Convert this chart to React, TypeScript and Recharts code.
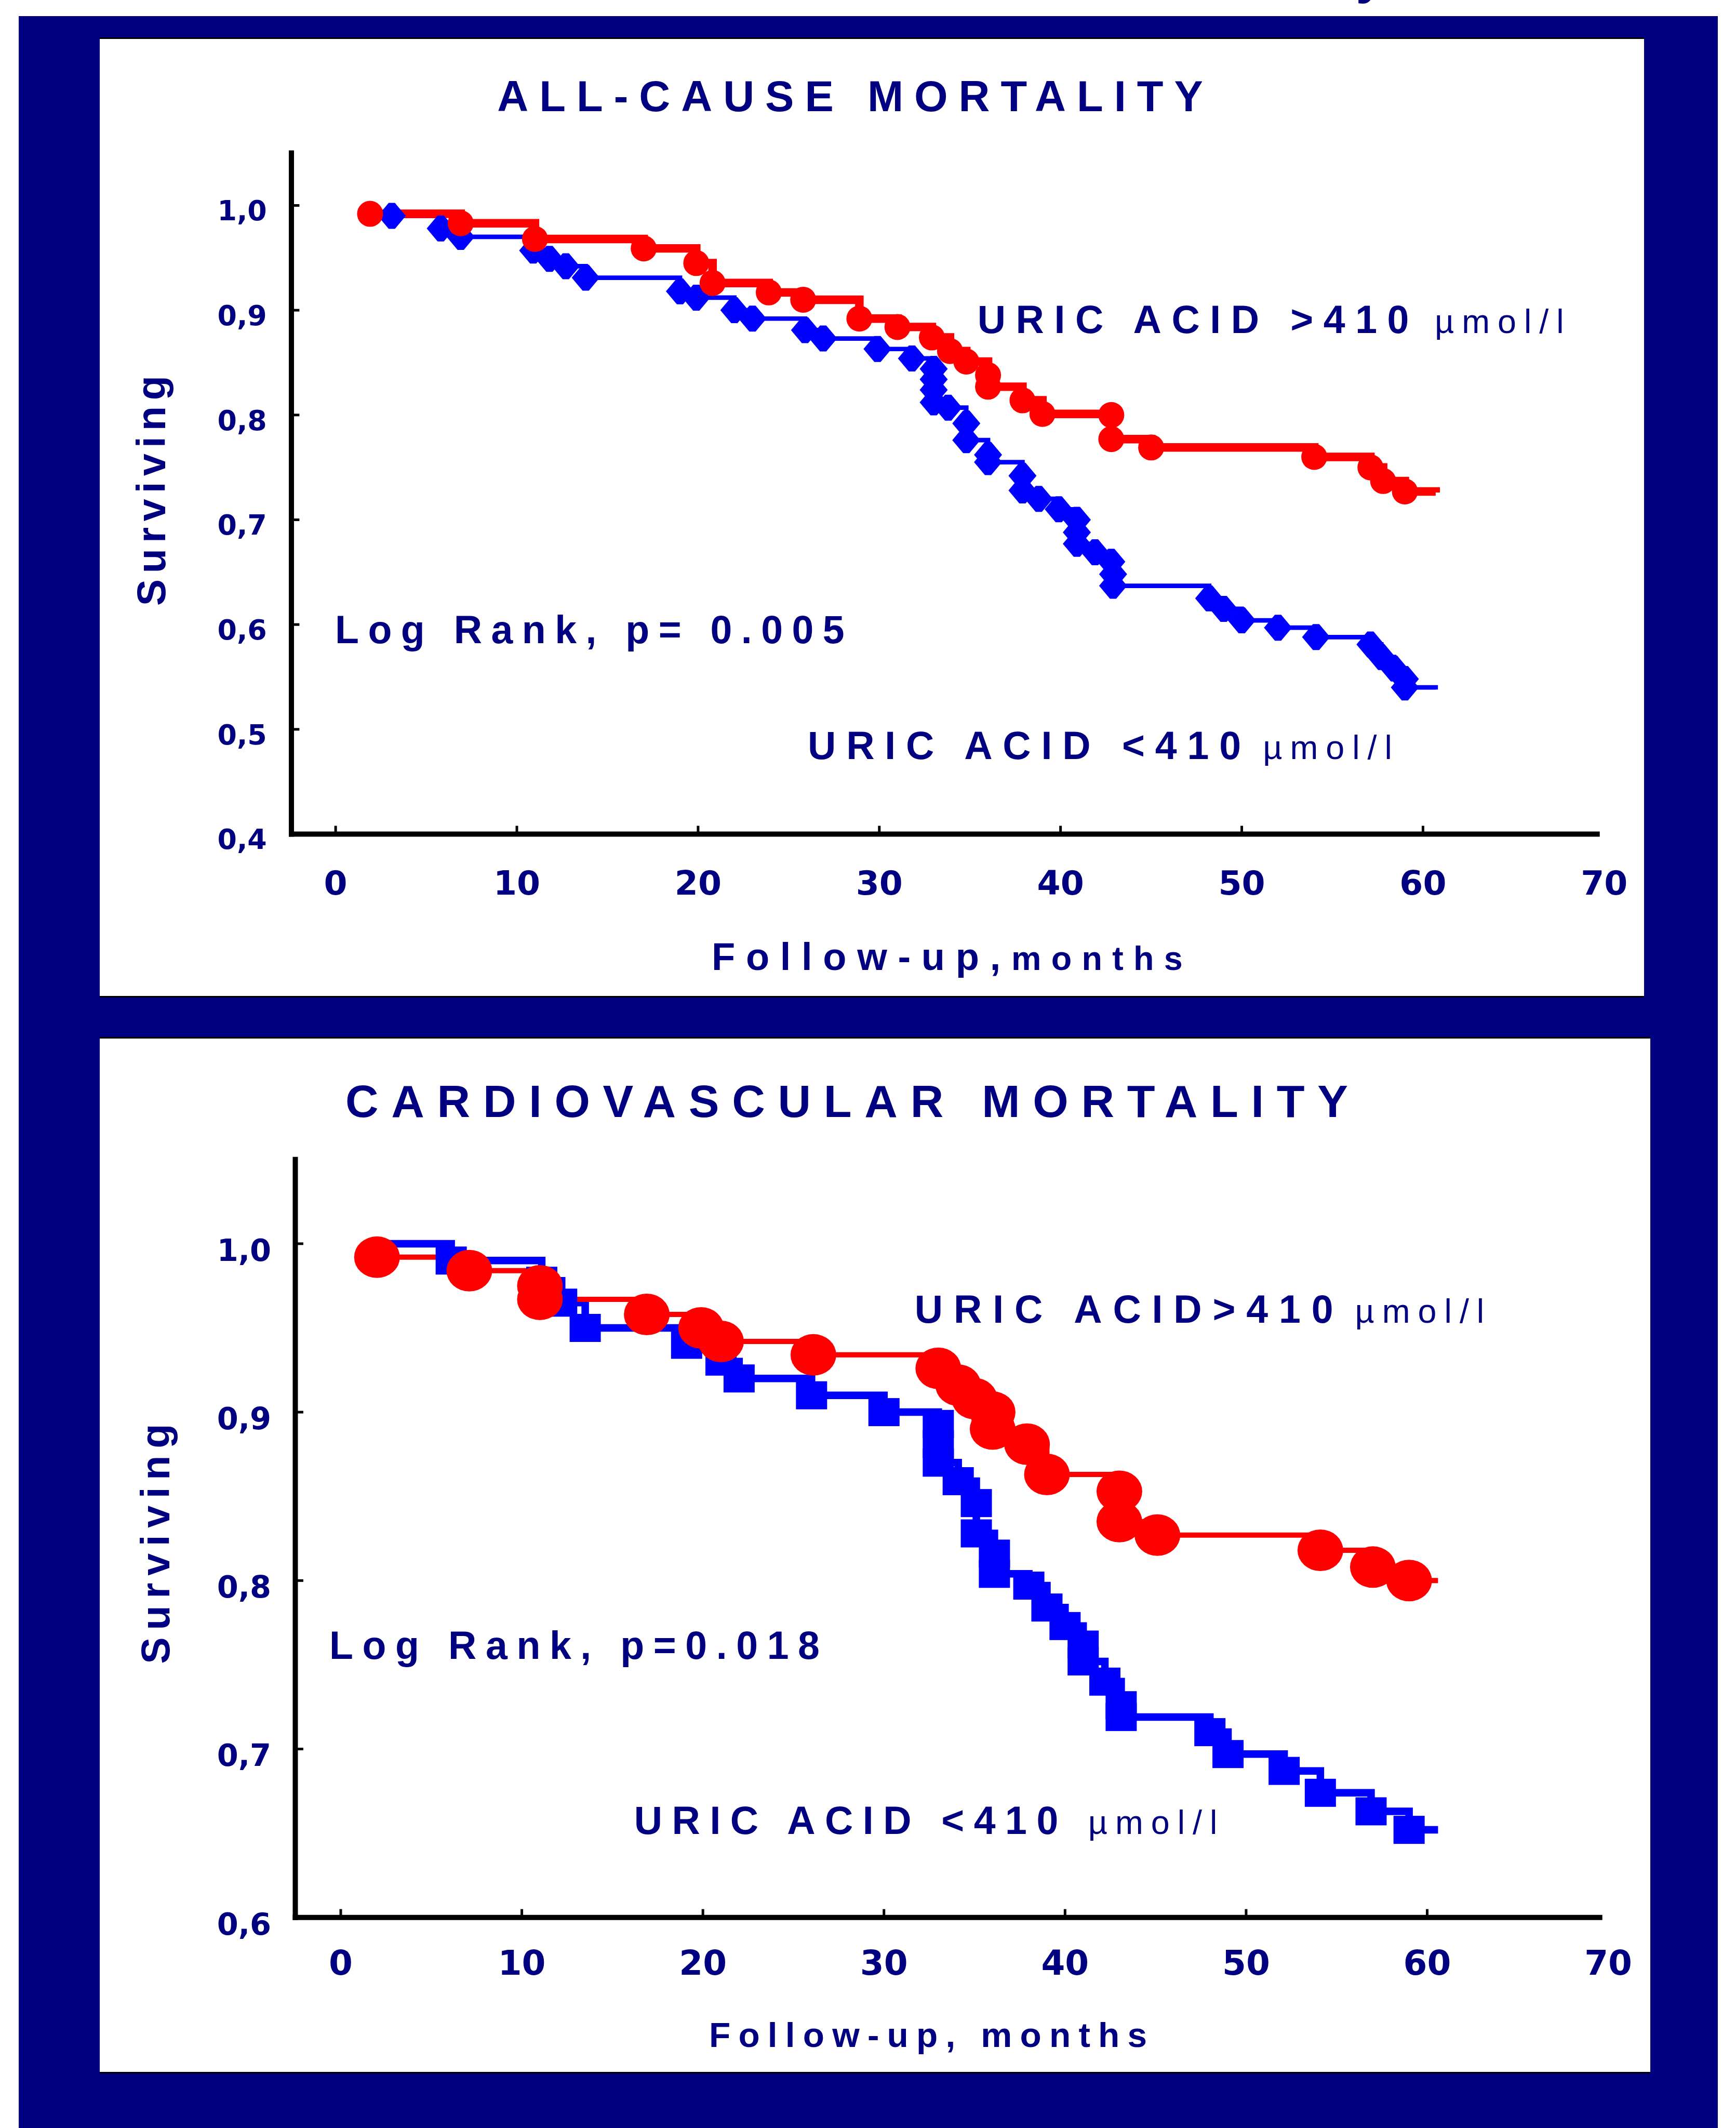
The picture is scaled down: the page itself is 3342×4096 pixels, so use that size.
import React from "react";
import { LineChart, Line, XAxis, YAxis } from "recharts";

const NAVY = "#000080";
const RED = "#ff0000";
const BLUE = "#0000ff";
const INK = "#000000";

const PAGE_W = 3342;
const PAGE_H = 4096;
const AXIS_BOX = 100;

const TICK_FONT = '"DejaVu Sans", Verdana, sans-serif';
const TEXT_FONT = '"Liberation Sans", Arial, Helvetica, sans-serif';

// tick values
const monthTicks = [0, 10, 20, 30, 40, 50, 60, 70];
const allCauseTicks = [0.4, 0.5, 0.6, 0.7, 0.8, 0.9, 1.0];
const cardioTicks = [0.6, 0.7, 0.8, 0.9, 1.0];

// all-cause mortality, uric acid > 410 (red)
const acHighMonths = [1.9, 6.9, 11.0, 17.0, 19.9, 20.8, 23.9, 25.8, 28.9, 31.0, 32.9, 33.9, 34.8, 36.0, 36.0, 37.9, 39.0, 42.8, 42.8, 45.0, 54.0, 57.1, 57.8, 59.0, 60.7];
const acHighSurv = [0.992, 0.983, 0.968, 0.959, 0.945, 0.926, 0.917, 0.91, 0.892, 0.884, 0.874, 0.861, 0.851, 0.838, 0.827, 0.814, 0.801, 0.8, 0.777, 0.769, 0.76, 0.75, 0.737, 0.727, 0.726];

// all-cause mortality, uric acid < 410 (blue)
const acLowMonths = [3.1, 5.8, 6.9, 10.9, 11.8, 12.7, 13.8, 19.0, 19.9, 22.0, 23.0, 25.9, 26.9, 29.9, 31.8, 33.0, 33.0, 33.0, 33.0, 33.8, 34.8, 34.8, 36.0, 36.0, 37.9, 37.9, 38.8, 39.9, 40.9, 40.9, 40.9, 41.9, 42.8, 42.9, 42.9, 48.2, 49.0, 50.0, 52.0, 54.1, 57.1, 57.7, 58.4, 59.0, 59.0, 60.7];
const acLowSurv = [0.99, 0.978, 0.97, 0.957, 0.949, 0.942, 0.931, 0.918, 0.912, 0.9, 0.892, 0.881, 0.873, 0.863, 0.854, 0.844, 0.834, 0.824, 0.812, 0.807, 0.792, 0.776, 0.762, 0.755, 0.742, 0.728, 0.72, 0.71, 0.7, 0.688, 0.677, 0.669, 0.66, 0.648, 0.637, 0.625, 0.615, 0.604, 0.597, 0.588, 0.581, 0.569, 0.558, 0.548, 0.54, 0.538];

// cardiovascular mortality, uric acid > 410 (red)
const cvHighMonths = [2.0, 7.1, 11.0, 11.0, 16.9, 19.9, 21.0, 26.1, 33.0, 34.1, 35.0, 36.0, 36.0, 37.9, 39.0, 43.0, 43.0, 45.1, 54.1, 57.0, 59.0, 60.6];
const cvHighSurv = [0.992, 0.984, 0.975, 0.967, 0.958, 0.95, 0.942, 0.934, 0.926, 0.916, 0.908, 0.9, 0.89, 0.881, 0.863, 0.853, 0.835, 0.827, 0.818, 0.808, 0.8, 0.8];

// cardiovascular mortality, uric acid < 410 (blue)
const cvLowMonths = [2.6, 6.1, 11.1, 12.2, 13.5, 19.1, 21.0, 22.0, 26.0, 30.0, 33.0, 33.0, 33.0, 34.1, 35.1, 35.1, 36.1, 36.1, 38.0, 39.0, 40.0, 41.0, 41.0, 42.2, 43.1, 43.1, 48.0, 49.0, 52.1, 54.1, 56.9, 59.0, 60.6];
const cvLowSurv = [1.0, 0.99, 0.978, 0.965, 0.95, 0.94, 0.93, 0.92, 0.91, 0.9, 0.893, 0.881, 0.87, 0.859, 0.846, 0.828, 0.816, 0.804, 0.797, 0.784, 0.773, 0.762, 0.752, 0.74, 0.726, 0.719, 0.71, 0.697, 0.687, 0.674, 0.663, 0.652, 0.652];

type Row = { t: number; s: number };
const rows = (months: number[], surv: number[]): Row[] =>
  months.map((t, i) => ({ t, s: surv[i] }));

type Shape = (cx: number, cy: number) => React.ReactElement;

const redCircle: Shape = (cx, cy) => <circle cx={cx} cy={cy} r={25} fill={RED} />;
const blueDiamond: Shape = (cx, cy) => (
  <polygon
    points={`${cx - 27},${cy} ${cx - 6},${cy - 25} ${cx + 6},${cy - 25} ${cx + 27},${cy} ${cx + 6},${cy + 25} ${cx - 6},${cy + 25}`}
    fill={BLUE}
  />
);
const redEllipse: Shape = (cx, cy) => <ellipse cx={cx} cy={cy} rx={44} ry={40} fill={RED} />;
const blueSquare: Shape = (cx, cy) => (
  <rect x={cx - 30} y={cy - 27} width={60} height={54} fill={BLUE} />
);

// last point is the end of follow-up, drawn without a marker
const makeDot = (shape: Shape, count: number, skipFirst = false) => (p: any) => {
  const i = p.index ?? 0;
  if (p.cx == null || p.cy == null || i === count - 1 || (skipFirst && i === 0)) {
    return <g key={`dot-${i}`} />;
  }
  return <g key={`dot-${i}`}>{shape(p.cx, p.cy)}</g>;
};

interface ChartProps {
  top: number;
  height: number;
  plot: { left: number; right: number; top: number; bottom: number };
  xDomain: [number, number];
  yDomain: [number, number];
  yTicks: number[];
  low: Row[];
  high: Row[];
  lowStroke: number;
  highStroke: number;
  lowDot: (p: any) => React.ReactElement;
  highDot: (p: any) => React.ReactElement;
  yTickFont: number;
  yTickGap: number;
  yTickBase: number;
  xTickFont: number;
  xTickBase: number;
}

function SurvivalChart(props: ChartProps) {
  const { top, height, plot, xDomain, yDomain } = props;

  const xTick = (p: any) => {
    const { x, y, payload } = p;
    const v = payload.value as number;
    return (
      <g>
        {v <= xDomain[1] && (
          <line x1={x} x2={x} y1={y} y2={y - 16} stroke={INK} strokeWidth={5} />
        )}
        <text
          x={x}
          y={y + props.xTickBase}
          textAnchor="middle"
          fontFamily={TICK_FONT}
          fontWeight="bold"
          fontSize={props.xTickFont}
          fill={NAVY}
        >
          {v}
        </text>
      </g>
    );
  };

  const yTick = (p: any) => {
    const { x, y, payload } = p;
    const v = payload.value as number;
    return (
      <g>
        <line x1={x} x2={x + 15.4} y1={y} y2={y} stroke={INK} strokeWidth={5} />
        <text
          x={x - props.yTickGap}
          y={y + props.yTickBase}
          textAnchor="end"
          fontFamily={TICK_FONT}
          fontWeight="bold"
          fontSize={props.yTickFont}
          fill={NAVY}
        >
          {v.toFixed(1).replace(".", ",")}
        </text>
      </g>
    );
  };

  const axisLine = { stroke: INK, strokeWidth: 10, strokeLinecap: "square" as const };

  return (
    <div style={{ position: "absolute", left: 0, top }}>
      <LineChart
        width={PAGE_W}
        height={height}
        margin={{
          top: plot.top - top,
          right: PAGE_W - plot.right,
          bottom: top + height - plot.bottom - AXIS_BOX,
          left: plot.left - AXIS_BOX,
        }}
      >
        <XAxis
          type="number"
          dataKey="t"
          domain={xDomain}
          allowDataOverflow
          ticks={monthTicks}
          interval={0}
          height={AXIS_BOX}
          tickSize={0}
          tickMargin={0}
          tickLine={false}
          axisLine={axisLine}
          tick={xTick}
        />
        <YAxis
          type="number"
          domain={yDomain}
          allowDataOverflow
          ticks={props.yTicks}
          interval={0}
          width={AXIS_BOX}
          tickSize={0}
          tickMargin={0}
          tickLine={false}
          axisLine={axisLine}
          tick={yTick}
        />
        <Line
          data={props.low}
          dataKey="s"
          type="stepAfter"
          stroke={BLUE}
          strokeWidth={props.lowStroke}
          dot={props.lowDot}
          activeDot={false}
          isAnimationActive={false}
        />
        <Line
          data={props.high}
          dataKey="s"
          type="stepAfter"
          stroke={RED}
          strokeWidth={props.highStroke}
          dot={props.highDot}
          activeDot={false}
          isAnimationActive={false}
        />
      </LineChart>
    </div>
  );
}

function Label(props: {
  x: number;
  y: number;
  size: number;
  spacing: number;
  bold?: boolean;
  children: React.ReactNode;
}) {
  return (
    <text
      x={props.x}
      y={props.y}
      fontSize={props.size}
      fontWeight={props.bold === false ? "normal" : "bold"}
      fill={NAVY}
      style={{ letterSpacing: props.spacing }}
    >
      {props.children}
    </text>
  );
}

function Surviving({ x, y, spacing }: { x: number; y: number; spacing: number }) {
  return (
    <text
      x={x}
      y={y}
      transform={`rotate(-90 ${x} ${y})`}
      textAnchor="middle"
      fontSize={77}
      fontWeight="bold"
      fill={NAVY}
      style={{ letterSpacing: spacing }}
    >
      Surviving
    </text>
  );
}

export default function App() {
  const acHigh = rows(acHighMonths, acHighSurv);
  const acLow = rows(acLowMonths, acLowSurv);
  const cvHigh = rows(cvHighMonths, cvHighSurv);
  const cvLow = rows(cvLowMonths, cvLowSurv);

  return (
    <div
      style={{
        position: "absolute",
        left: 0,
        top: 0,
        width: PAGE_W,
        height: PAGE_H,
        background: "#ffffff",
        overflow: "hidden",
        fontFamily: TEXT_FONT,
      }}
    >
      <div
        style={{
          position: "absolute",
          left: 35.7,
          top: 31,
          width: 3271.8,
          height: PAGE_H - 31,
          background: NAVY,
        }}
      />
      <div
        style={{
          position: "absolute",
          left: 191.8,
          top: 72.3,
          width: 2973,
          height: 1848,
          background: "#ffffff",
          borderTop: "3px solid #000",
          borderBottom: "3px solid #000",
          boxSizing: "border-box",
        }}
      />
      <div
        style={{
          position: "absolute",
          left: 191.8,
          top: 1995.5,
          width: 2985.5,
          height: 1995.5,
          background: "#ffffff",
          borderTop: "3px solid #000",
          borderBottom: "3px solid #000",
          boxSizing: "border-box",
        }}
      />

      <SurvivalChart
        top={0}
        height={1960}
        plot={{ left: 561.0, right: 3074.7, top: 294.6, bottom: 1605.5 }}
        xDomain={[-2.44, 69.61]}
        yDomain={[0.4, 1.05]}
        yTicks={allCauseTicks}
        low={acLow}
        high={acHigh}
        lowStroke={8.7}
        highStroke={16.4}
        lowDot={makeDot(blueDiamond, acLow.length)}
        highDot={makeDot(redCircle, acHigh.length)}
        yTickFont={53.8}
        yTickGap={47.2}
        yTickBase={28.9}
        xTickFont={64.8}
        xTickBase={116.2}
      />

      <SurvivalChart
        top={1990}
        height={2106}
        plot={{ left: 568.5, right: 3079.7, top: 2231.8, bottom: 3690.7 }}
        xDomain={[-2.51, 69.53]}
        yDomain={[0.6, 1.05]}
        yTicks={cardioTicks}
        low={cvLow}
        high={cvHigh}
        lowStroke={14.5}
        highStroke={10}
        lowDot={makeDot(blueSquare, cvLow.length, true)}
        highDot={makeDot(redEllipse, cvHigh.length)}
        yTickFont={59}
        yTickGap={46.3}
        yTickBase={32.8}
        xTickFont={66}
        xTickBase={110.4}
      />

      <svg
        width={PAGE_W}
        height={PAGE_H}
        style={{ position: "absolute", left: 0, top: 0, pointerEvents: "none", overflow: "visible" }}
        fontFamily={TEXT_FONT}
      >
        <text x={2610} y={-14} fontSize={100} fontWeight="bold" fill={NAVY}>
          y
        </text>

        {/* all-cause panel */}
        <Label x={957.3} y={214} size={83} spacing={21}>
          ALL-CAUSE MORTALITY
        </Label>
        <Label x={1881.7} y={641} size={75.2} spacing={19.6}>
          URIC ACID &gt;410
        </Label>
        <Label x={2762} y={641} size={64.6} spacing={15} bold={false}>
          µmol/l
        </Label>
        <Label x={645} y={1237.8} size={75.2} spacing={17.5}>
          Log Rank, p= 0.005
        </Label>
        <Label x={1555} y={1461} size={75.2} spacing={19.85}>
          URIC ACID &lt;410
        </Label>
        <Label x={2431.2} y={1461} size={64.6} spacing={15} bold={false}>
          µmol/l
        </Label>
        <Surviving x={318} y={939} spacing={11.5} />
        <text x={1370} y={1867.3} fontWeight="bold" fill={NAVY}>
          <tspan fontSize={74} style={{ letterSpacing: 20.7 }}>
            Follow-up,
          </tspan>
          <tspan fontSize={64.6} style={{ letterSpacing: 19.3 }}>
            months
          </tspan>
        </text>

        {/* cardiovascular panel */}
        <Label x={665} y={2149.5} size={88} spacing={24.75}>
          CARDIOVASCULAR MORTALITY
        </Label>
        <Label x={1760.8} y={2546} size={75.2} spacing={20.9}>
          URIC ACID&gt;410
        </Label>
        <Label x={2608.6} y={2546} size={64.6} spacing={15} bold={false}>
          µmol/l
        </Label>
        <Label x={634} y={3193} size={75.2} spacing={17.6}>
          Log Rank, p=0.018
        </Label>
        <Label x={1220.8} y={3529.5} size={75.2} spacing={18.5}>
          URIC ACID &lt;410
        </Label>
        <Label x={2094.8} y={3529.5} size={64.6} spacing={15} bold={false}>
          µmol/l
        </Label>
        <Surviving x={326} y={2964.8} spacing={13.9} />
        <Label x={1365} y={3939.6} size={67.5} spacing={15.2}>
          Follow-up, months
        </Label>
      </svg>
    </div>
  );
}
